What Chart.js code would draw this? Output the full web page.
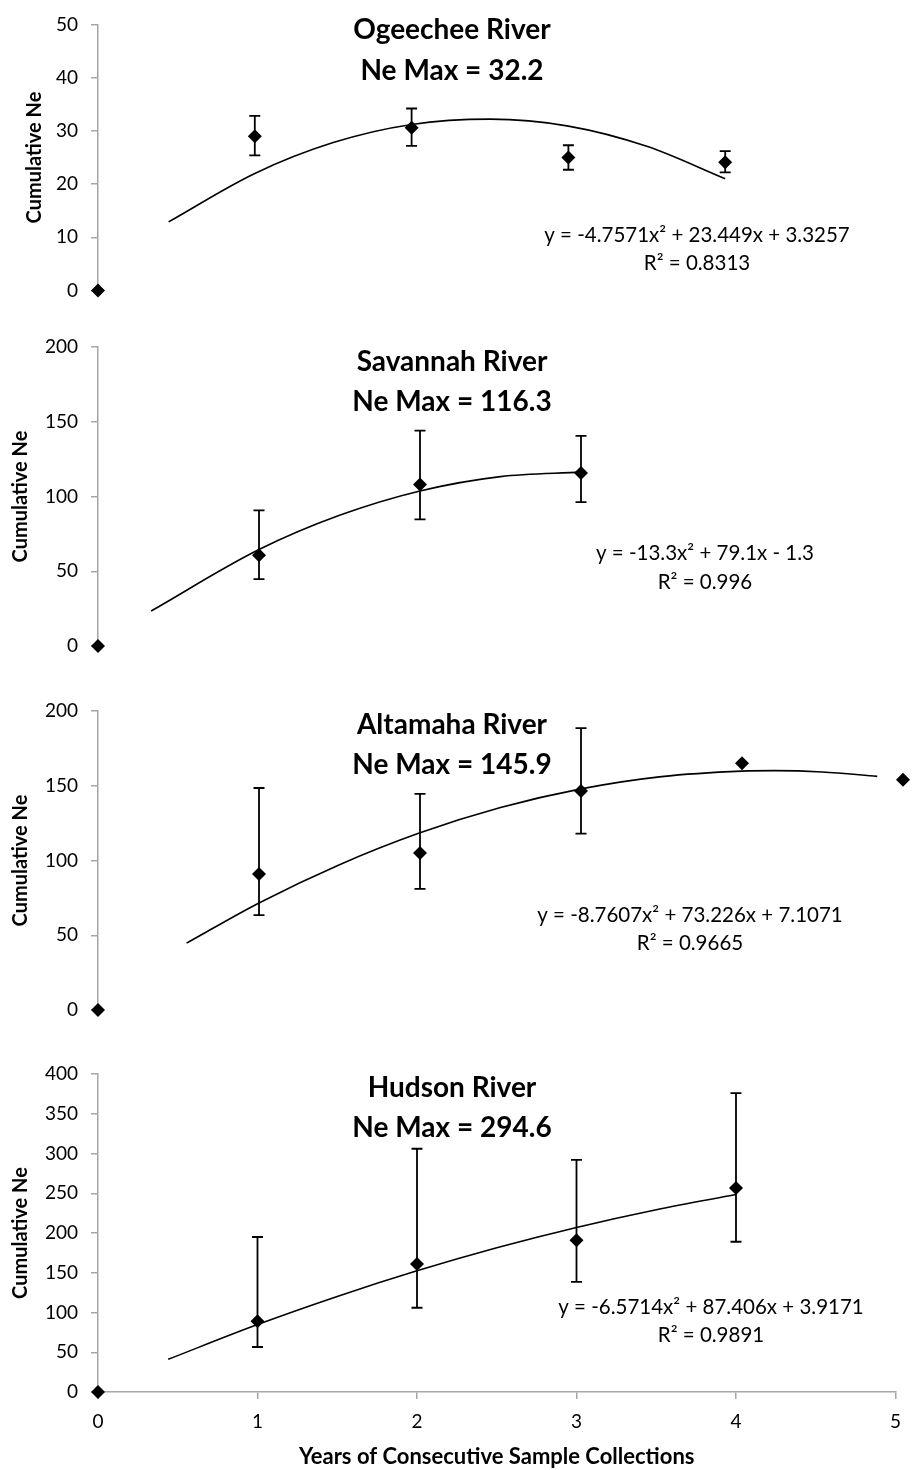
<!DOCTYPE html>
<html lang="en">
<head>
  <meta charset="utf-8">
  <title>Cumulative Ne by river</title>
  <script src="https://cdn.jsdelivr.net/npm/chart.js"></script>
  <style>
    body {
      margin: 0;
      background-color: #fff;
    }
    #wrap {
      position: relative;
      width: 912px;
      height: 1470px;
    }
    .panel {
      position: absolute;
      left: 0;
      width: 912px;
    }
  </style>
</head>
<body>
  <div id="wrap">
    <div class="panel" style="top:0px;height:315px"><canvas id="ogeechee" width="912" height="315"></canvas></div>
    <div class="panel" style="top:315px;height:365px"><canvas id="savannah" width="912" height="365"></canvas></div>
    <div class="panel" style="top:680px;height:365px"><canvas id="altamaha" width="912" height="365"></canvas></div>
    <div class="panel" style="top:1045px;height:425px"><canvas id="hudson" width="912" height="425"></canvas></div>
  </div>
  <script>
    // x axis (shared) tick labels
    const years = [0, 1, 2, 3, 4, 5];

    // Ogeechee River
    const ogeecheeX = [0, 1, 2, 3, 4];
    const ogeecheeNe = [0, 29.0, 30.6, 25.0, 24.1];
    const ogeecheeLow = [null, 25.4, 27.2, 22.7, 22.2];
    const ogeecheeHigh = [null, 32.8, 34.2, 27.3, 26.2];
    const ogeecheeTrendX = [0.45, 1, 1.5, 2, 2.5, 3, 3.5, 4];
    const ogeecheeTrendY = [12.9, 22.0, 27.8, 31.2, 32.2, 30.9, 27.1, 21.0];
    const ogeecheeTicks = [0, 10, 20, 30, 40, 50];

    // Savannah River
    const savannahX = [0, 1, 2, 3];
    const savannahNe = [0, 60.7, 108, 115.7];
    const savannahLow = [null, 44.7, 84.7, 96.3];
    const savannahHigh = [null, 90.7, 144, 140.5];
    const savannahTrendX = [0.33, 1, 1.5, 2, 2.5, 3];
    const savannahTrendY = [23.4, 64.5, 87.4, 103.7, 113.3, 116.3];
    const savannahTicks = [0, 50, 100, 150, 200];

    // Altamaha River
    const altamahaX = [0, 1, 2, 3, 4, 5];
    const altamahaNe = [0, 91, 105, 146.5, 165, 154];
    const altamahaLow = [null, 63.5, 81, 118, null, null];
    const altamahaHigh = [null, 148.5, 144.5, 188.5, null, null];
    const altamahaTrendX = [0.55, 1, 1.5, 2, 2.5, 3, 3.5, 4, 4.2, 4.5, 4.84];
    const altamahaTrendY = [44.7, 71.6, 97.2, 118.5, 135.4, 147.9, 156.1, 159.8, 160.1, 159.2, 156.3];
    const altamahaTicks = [0, 50, 100, 150, 200];

    // Hudson River
    const hudsonX = [0, 1, 2, 3, 4];
    const hudsonNe = [0, 89, 161, 191, 256.6];
    const hudsonLow = [null, 56.6, 106, 138.5, 189];
    const hudsonHigh = [null, 195, 306, 292, 376];
    const hudsonTrendX = [0.44, 1, 1.5, 2, 2.5, 3, 3.5, 4];
    const hudsonTrendY = [41.1, 84.8, 120.2, 152.4, 181.4, 207.0, 229.3, 248.4];
    const hudsonTicks = [0, 50, 100, 150, 200, 250, 300, 350, 400];

    const FONT = 'Lato, "Open Sans", sans-serif';
    const AXIS_GREY = '#a6a6a6';

    // error bars + panel title + trendline equation
    const panelDecor = {
      id: 'panelDecor',
      afterDatasetsDraw(chart, args, opts) {
        const ctx = chart.ctx;
        const xs = chart.scales.x, ys = chart.scales.y;
        ctx.save();
        ctx.strokeStyle = '#000';
        ctx.lineWidth = 1.8;
        opts.xVals.forEach(function(xv, i) {
          if (opts.low[i] == null) return;
          const px = xs.getPixelForValue(xv);
          const top = ys.getPixelForValue(opts.high[i]);
          const bot = ys.getPixelForValue(opts.low[i]);
          ctx.beginPath();
          ctx.moveTo(px, top); ctx.lineTo(px, bot);
          ctx.moveTo(px - 5.5, top); ctx.lineTo(px + 5.5, top);
          ctx.moveTo(px - 5.5, bot); ctx.lineTo(px + 5.5, bot);
          ctx.stroke();
        });

        ctx.fillStyle = '#000';
        ctx.textAlign = 'center';
        ctx.textBaseline = 'middle';
        ctx.font = 'bold 28px ' + FONT;
        ctx.fillText(opts.title[0], 452, opts.titleY[0]);
        ctx.fillText(opts.title[1], 452, opts.titleY[1]);
        ctx.font = '20.5px ' + FONT;
        ctx.fillText(opts.eq[0], opts.eqX, opts.eqY[0]);
        ctx.fillText(opts.eq[1], opts.eqX, opts.eqY[1]);
        ctx.restore();
      }
    };

    function makePanel(id, p) {
      const showX = !!p.showX;
      new Chart(document.getElementById(id), {
        type: 'scatter',
        data: {
          datasets: [{
            label: 'Ne',
            data: p.x.map((v, i) => ({x: v, y: p.ne[i]})),
            pointStyle: 'rectRot',
            pointRadius: 7,
            pointHoverRadius: 7,
            backgroundColor: '#000',
            borderColor: '#000',
            borderWidth: 0,
            clip: false,
            order: 0
          }, {
            label: 'Trend',
            data: p.trendX.map((v, i) => ({x: v, y: p.trendY[i]})),
            showLine: true,
            pointRadius: 0,
            borderColor: '#000',
            borderWidth: 1.6,
            cubicInterpolationMode: 'monotone',
            order: 1
          }]
        },
        options: {
          responsive: false,
          animation: false,
          events: [],
          layout: {padding: {left: 0, right: p.padRight, top: p.padTop, bottom: p.padBottom}},
          plugins: {
            legend: {display: false},
            tooltip: {enabled: false},
            panelDecor: {
              xVals: p.x, low: p.low, high: p.high,
              title: p.title, titleY: p.titleY,
              eq: p.eq, eqX: p.eqX, eqY: p.eqY
            }
          },
          scales: {
            x: {
              type: 'linear',
              min: 0,
              max: 5,
              display: showX,
              afterBuildTicks: s => { s.ticks = years.map(v => ({value: v})); },
              afterFit: s => { if (showX) s.height = 78; },
              grid: {drawOnChartArea: false, drawTicks: true, tickLength: 7, color: AXIS_GREY, lineWidth: 1.5},
              border: {display: true, color: AXIS_GREY, width: 1.5},
              ticks: {color: '#000', font: {family: FONT, size: 19}, padding: 11},
              title: {
                display: showX,
                text: 'Years of Consecutive Sample Collections',
                color: '#000',
                font: {family: FONT, size: 22, weight: 'bold'},
                padding: {top: 0, bottom: 0}
              }
            },
            y: {
              type: 'linear',
              min: p.ticks[0],
              max: p.ticks[p.ticks.length - 1],
              afterBuildTicks: s => { s.ticks = p.ticks.map(v => ({value: v})); },
              afterFit: s => { s.width = 98; },
              grid: {drawOnChartArea: false, drawTicks: true, tickLength: 7, color: AXIS_GREY, lineWidth: 1.5},
              border: {display: true, color: AXIS_GREY, width: 1.5},
              ticks: {color: '#000', font: {family: FONT, size: 19}, padding: 13},
              title: {
                display: true,
                text: 'Cumulative Ne',
                color: '#000',
                font: {family: FONT, size: 20, weight: 'bold'},
                padding: {top: p.yTitleGap, bottom: 0}
              }
            }
          }
        },
        plugins: [panelDecor]
      });
    }

    makePanel('ogeechee', {
      x: ogeecheeX, ne: ogeecheeNe, low: ogeecheeLow, high: ogeecheeHigh,
      trendX: ogeecheeTrendX, trendY: ogeecheeTrendY, ticks: ogeecheeTicks,
      padTop: 19, padBottom: 24, padRight: 30, yTitleGap: 23,
      title: ['Ogeechee River', 'Ne Max = 32.2'], titleY: [30, 71],
      eq: ['y = -4.7571x\u00b2 + 23.449x + 3.3257', 'R\u00b2 = 0.8313'], eqX: 697, eqY: [235, 263]
    });

    makePanel('savannah', {
      x: savannahX, ne: savannahNe, low: savannahLow, high: savannahHigh,
      trendX: savannahTrendX, trendY: savannahTrendY, ticks: savannahTicks,
      padTop: 32, padBottom: 34, padRight: 9, yTitleGap: 9,
      title: ['Savannah River', 'Ne Max = 116.3'], titleY: [47, 87],
      eq: ['y = -13.3x\u00b2 + 79.1x - 1.3', 'R\u00b2 = 0.996'], eqX: 705, eqY: [238, 267]
    });

    makePanel('altamaha', {
      x: altamahaX, ne: altamahaNe, low: altamahaLow, high: altamahaHigh,
      trendX: altamahaTrendX, trendY: altamahaTrendY, ticks: altamahaTicks,
      padTop: 31, padBottom: 35, padRight: 9, yTitleGap: 9,
      title: ['Altamaha River', 'Ne Max = 145.9'], titleY: [45, 85],
      eq: ['y = -8.7607x\u00b2 + 73.226x + 7.1071', 'R\u00b2 = 0.9665'], eqX: 690, eqY: [235, 263]
    });

    makePanel('hudson', {
      x: hudsonX, ne: hudsonNe, low: hudsonLow, high: hudsonHigh,
      trendX: hudsonTrendX, trendY: hudsonTrendY, ticks: hudsonTicks,
      padTop: 29, padBottom: 0, padRight: 15, showX: true, yTitleGap: 9,
      title: ['Hudson River', 'Ne Max = 294.6'], titleY: [43, 83],
      eq: ['y = -6.5714x\u00b2 + 87.406x + 3.9171', 'R\u00b2 = 0.9891'], eqX: 711, eqY: [262, 290]
    });
  </script>
</body>
</html>
